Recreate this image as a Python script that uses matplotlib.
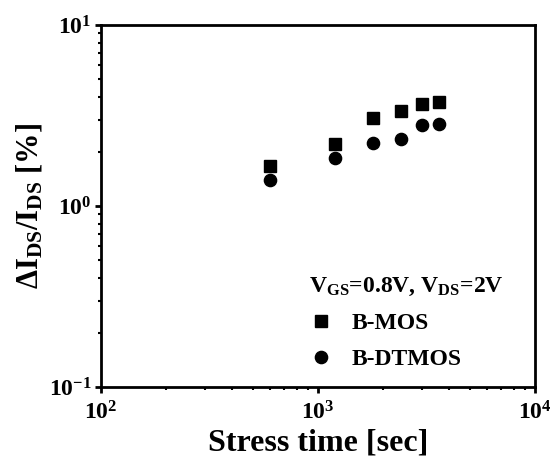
import matplotlib
matplotlib.use("Agg")
import matplotlib.pyplot as plt
from matplotlib.ticker import LogLocator, FixedLocator, FixedFormatter, NullFormatter

plt.rcParams['font.family'] = ['Liberation Serif', 'DejaVu Serif']
plt.rcParams['font.weight'] = 'bold'
plt.rcParams['mathtext.fontset'] = 'custom'
plt.rcParams['mathtext.rm'] = 'Liberation Serif:bold'
plt.rcParams['mathtext.bf'] = 'Liberation Serif:bold'
plt.rcParams['mathtext.it'] = 'Liberation Serif:bold'

stress_time = [600, 1200, 1800, 2400, 3000, 3600]
bmos = [1.66, 2.20, 3.06, 3.35, 3.66, 3.76]
bdtmos = [1.39, 1.84, 2.23, 2.35, 2.80, 2.84]

x_ticks = [1e2, 1e3, 1e4]
x_tick_labels = [r'$\mathbf{10^{2}}$', r'$\mathbf{10^{3}}$', r'$\mathbf{10^{4}}$']
y_ticks = [1e-1, 1e0, 1e1]
y_tick_labels = [r'$\mathbf{10^{-1}}$', r'$\mathbf{10^{0}}$', r'$\mathbf{10^{1}}$']

fig = plt.figure(figsize=(5.58, 4.62), dpi=100)
ax = fig.add_axes([101/558, 1-387/462, (535-101)/558, (387-25)/462])

ax.plot(stress_time, bmos, linestyle='none', marker='s', markersize=8, color='black', label='B-MOS')
ax.plot(stress_time, bdtmos, linestyle='none', marker='o', markersize=8.8, color='black', label='B-DTMOS')

ax.set_xscale('log')
ax.set_yscale('log')
ax.set_xlim(1e2, 1e4)
ax.set_ylim(1e-1, 1e1)

ax.xaxis.set_major_locator(FixedLocator(x_ticks))
ax.xaxis.set_major_formatter(FixedFormatter(x_tick_labels))
ax.yaxis.set_major_locator(FixedLocator(y_ticks))
ax.yaxis.set_major_formatter(FixedFormatter(y_tick_labels))
ax.xaxis.set_minor_locator(LogLocator(base=10, subs=range(2, 10), numticks=20))
ax.yaxis.set_minor_locator(LogLocator(base=10, subs=range(2, 10), numticks=20))
ax.xaxis.set_minor_formatter(NullFormatter())
ax.yaxis.set_minor_formatter(NullFormatter())

for s in ax.spines.values():
    s.set_linewidth(2.0)
ax.tick_params(which='major', direction='out', length=4, width=2, labelsize=17)
ax.tick_params(axis='x', which='major', pad=6)
ax.tick_params(axis='y', which='major', pad=3)
ax.tick_params(which='minor', direction='out', length=2.5, width=1.5)
ax.tick_params(top=False, right=False, which='both')

ax.set_xlabel('Stress time [sec]', fontsize=23, fontweight='bold', labelpad=3)
ax.set_ylabel(r'$\mathbf{\Delta I_{DS}/I_{DS}}$ [%]', fontsize=22, fontweight='bold', labelpad=3)

leg = ax.legend(loc='lower right', bbox_to_anchor=(0.955, 0.015), frameon=False,
                title=r'$\mathbf{V_{GS}}$=0.8V, $\mathbf{V_{DS}}$=2V',
                title_fontproperties={'size': 17, 'weight': 'bold'},
                prop={'size': 17, 'weight': 'bold'},
                handlelength=1.0, handletextpad=0.8, labelspacing=0.6, borderpad=0.0)
leg._legend_box.align = 'left'

fig.savefig('out.png', dpi=100)
